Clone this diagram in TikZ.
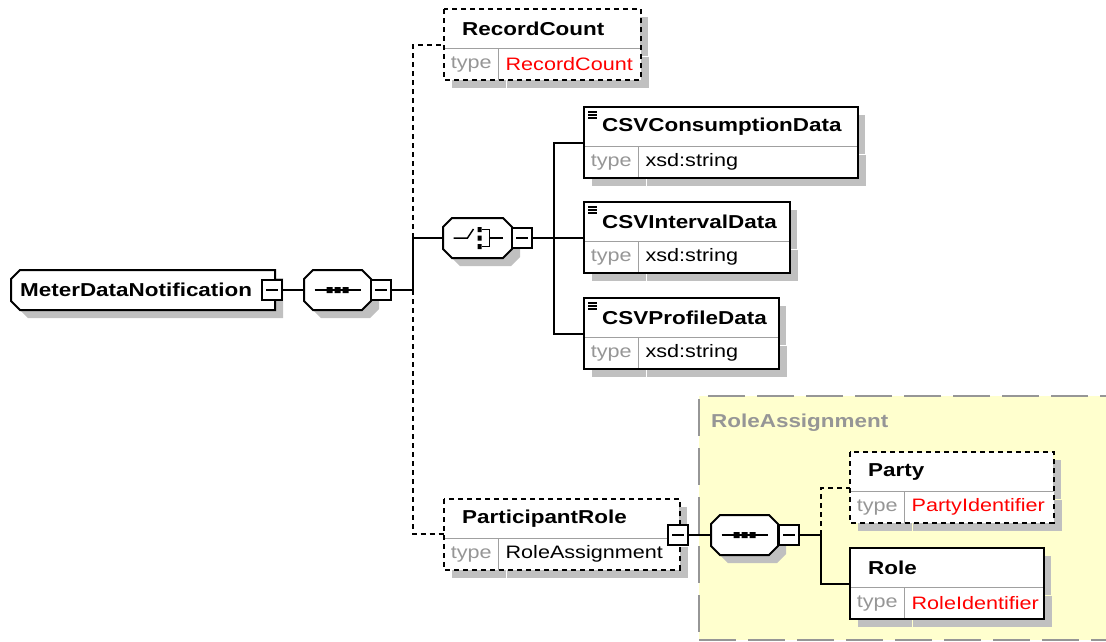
\documentclass[tikz,border=0pt]{standalone}
\usepackage{fontspec}
\setmainfont{Liberation Sans}[FakeStretch=1.2]
\usetikzlibrary{shadows}
\definecolor{shadowgray}{RGB}{192,192,192}
\definecolor{typegray}{RGB}{150,150,150}
\definecolor{dividergray}{RGB}{160,160,160}
\definecolor{groupyellow}{RGB}{255,255,206}
\definecolor{groupline}{RGB}{150,150,150}
\tikzset{
  shade/.style={drop shadow={shadow xshift=8pt,shadow yshift=-8pt,fill=shadowgray,opacity=1}},
  optional/.style={dash pattern=on 5pt off 4pt},
  link/.style={line width=2pt},
  icon/.style={line width=1.5pt},
  frame/.style={line width=2pt},
  divider/.style={draw=dividergray, line width=1.5pt},
  namefont/.style={font=\fontsize{18.7}{21}\selectfont\bfseries},
  elemname/.style={fill=white, shade, anchor=north west, namefont,
    minimum height=39pt, inner xsep=18pt, inner ysep=0pt, align=left},
  typecell/.style={fill=white, shade, anchor=north west,
    minimum width=54pt, minimum height=31pt, inner sep=0pt, text=typegray},
  valcell/.style={fill=white, shade, anchor=north west,
    minimum height=31pt, inner xsep=7pt, inner ysep=0pt, align=left},
  minusbox/.style={draw, fill=white, line width=1.5pt, minimum size=20pt, inner sep=0pt,
    path picture={\draw[icon] ([xshift=4pt]path picture bounding box.west)
      -- ([xshift=-4pt]path picture bounding box.east);}},
  compositor/.style={minimum width=67pt, minimum height=40pt, inner sep=0pt},
  octagon/.style={insert path={(-#1,-11) -- (-#1+9,-20) -- (#1-9,-20) -- (#1,-11)
    -- (#1,11) -- (#1-9,20) -- (-#1+9,20) -- (-#1,11) -- cycle}},
  group/.style={draw=groupline, fill=groupyellow, line width=2pt,
    dash pattern=on 37pt off 12pt, anchor=north west},
}
\begin{document}
\begin{tikzpicture}[x=1pt,y=-1pt,font=\fontsize{18}{21}\selectfont]
  \useasboundingbox (0,0) rectangle (1106,641);

  % RoleAssignment group
  \node[group, minimum width=440pt, minimum height=244pt] (ragroup) at (698,395) {};
  \node[anchor=west, inner sep=0pt, text=typegray, namefont]
    (ralabel) at (711,423) {RoleAssignment};

  % root element
  \node[compositor, minimum width=264pt] (mdn) at (143,290) {};
  \begin{scope}[shift={(mdn.center)}]
    \fill[shadowgray, shift={(8,8)}] (-132,-11) -- (-123,-20) -- (132,-20) -- (132,20)
      -- (-123,20) -- (-132,11) -- cycle;
    \draw[frame, fill=white] (-132,-11) -- (-123,-20) -- (132,-20) -- (132,20)
      -- (-123,20) -- (-132,11) -- cycle;
  \end{scope}
  \node[anchor=west, inner sep=0pt, namefont] (mdntext) at (20,290) {MeterDataNotification};
  \node[minusbox] (mdnminus) at (272,290) {};

  % compositors
  \node[compositor] (seq) at (337.5,290) {};
  \begin{scope}[shift={(seq.center)}]
    \fill[shadowgray, shift={(8,8)}] [octagon=33.5];
    \draw[frame, fill=white] [octagon=33.5];
    \draw[icon] (-23,0) -- (23,0);
    \fill (-11,-3) rectangle (-5,3) (-3,-3) rectangle (3,3) (5,-3) rectangle (11,3);
  \end{scope}
  \node[minusbox] (seqminus) at (381,290) {};

  \node[compositor, minimum width=69pt] (choice) at (477.5,238) {};
  \begin{scope}[shift={(choice.center)}]
    \fill[shadowgray, shift={(8,8)}] [octagon=34.5];
    \draw[frame, fill=white] [octagon=34.5];
    \draw[icon] (-24,0) -- (-10,0) -- (-4,-9);
    \fill (0,-11) rectangle (4,-6) (0,-2.5) rectangle (4,2.5) (0,6) rectangle (4,11);
    \draw[icon] (4,-8.5) -- (12,-8.5) -- (12,8.5) -- (4,8.5) (12,0) -- (25,0);
  \end{scope}
  \node[minusbox] (choiceminus) at (522,238) {};

  \node[compositor] (raseq) at (744.5,535) {};
  \begin{scope}[shift={(raseq.center)}]
    \fill[shadowgray, shift={(8,8)}] [octagon=33.5];
    \draw[frame, fill=white] [octagon=33.5];
    \draw[icon] (-23,0) -- (23,0);
    \fill (-11,-3) rectangle (-5,3) (-3,-3) rectangle (3,3) (5,-3) rectangle (11,3);
  \end{scope}
  \node[minusbox] (raseqminus) at (789,535) {};

  % elements
  \node[elemname, text width=160pt] (rc) at (444,9) {RecordCount};
  \node[typecell] (rctype) at (rc.south west) {type};
  \node[valcell, text width=128pt, text=red] (rcval) at (rctype.north east) {RecordCount};
  \draw[divider] (rc.south west) -- (rc.south east) (rctype.north east) -- (rctype.south east);
  \draw[frame, optional] (rc.north west) rectangle (rcval.south east);

  \node[elemname, text width=237pt] (csvc) at (584,107) {CSVConsumptionData};
  \node[typecell] (csvctype) at (csvc.south west) {type};
  \node[valcell, text width=205pt] (csvcval) at (csvctype.north east) {xsd:string};
  \draw[divider] (csvc.south west) -- (csvc.south east) (csvctype.north east) -- (csvctype.south east);
  \draw[frame] (csvc.north west) rectangle (csvcval.south east);

  \node[elemname, text width=169pt] (csvi) at (584,202) {CSVIntervalData};
  \node[typecell] (csvitype) at (csvi.south west) {type};
  \node[valcell, text width=137pt] (csvival) at (csvitype.north east) {xsd:string};
  \draw[divider] (csvi.south west) -- (csvi.south east) (csvitype.north east) -- (csvitype.south east);
  \draw[frame] (csvi.north west) rectangle (csvival.south east);

  \node[elemname, text width=158pt] (csvp) at (584,298) {CSVProfileData};
  \node[typecell] (csvptype) at (csvp.south west) {type};
  \node[valcell, text width=126pt] (csvpval) at (csvptype.north east) {xsd:string};
  \draw[divider] (csvp.south west) -- (csvp.south east) (csvptype.north east) -- (csvptype.south east);
  \draw[frame] (csvp.north west) rectangle (csvpval.south east);

  \node[elemname, text width=199pt] (pr) at (444,499) {ParticipantRole};
  \node[typecell] (prtype) at (pr.south west) {type};
  \node[valcell, text width=167pt] (prval) at (prtype.north east) {RoleAssignment};
  \draw[divider] (pr.south west) -- (pr.south east) (prtype.north east) -- (prtype.south east);
  \draw[frame, optional] (pr.north west) rectangle (prval.south east);
  \node[minusbox] (prminus) at (678,535) {};

  \node[elemname, text width=167pt] (party) at (850,452) {Party};
  \node[typecell] (partytype) at (party.south west) {type};
  \node[valcell, text width=135pt, text=red] (partyval) at (partytype.north east) {PartyIdentifier};
  \draw[divider] (party.south west) -- (party.south east) (partytype.north east) -- (partytype.south east);
  \draw[frame, optional] (party.north west) rectangle (partyval.south east);

  \node[elemname, text width=157pt] (role) at (850,548) {Role};
  \node[typecell] (roletype) at (role.south west) {type};
  \node[valcell, text width=125pt, text=red] (roleval) at (roletype.north east) {RoleIdentifier};
  \draw[divider] (role.south west) -- (role.south east) (roletype.north east) -- (roletype.south east);
  \draw[frame] (role.north west) rectangle (roleval.south east);

  % simple content marks
  \draw[line width=1.2pt] ([shift={(4,5)}]csvc.north west) -- +(9,0) +(0,3) -- +(9,3) +(0,6) -- +(9,6);
  \draw[line width=1.2pt] ([shift={(4,5)}]csvi.north west) -- +(9,0) +(0,3) -- +(9,3) +(0,6) -- +(9,6);
  \draw[line width=1.2pt] ([shift={(4,5)}]csvp.north west) -- +(9,0) +(0,3) -- +(9,3) +(0,6) -- +(9,6);

  % connectors
  \coordinate (j1) at (413,290);
  \coordinate (j2) at (554,238);
  \coordinate (j3) at (821,535);
  \draw[link] (mdnminus) -- (seq.west);
  \draw[link] (seqminus) -- (j1) |- (choice.west);
  \draw[link, optional] (j1 |- choice.west) |- ([yshift=3pt]rc.south west);
  \draw[link, optional] (j1) |- ([yshift=4pt]pr.south west);
  \draw[link] (choiceminus) -- (j2);
  \draw[link] (j2) |- ([yshift=3pt]csvc.south west);
  \draw[link] (j2) |- ([yshift=3pt]csvi.south west);
  \draw[link] (j2) |- ([yshift=3pt]csvp.south west);
  \draw[link] (prminus) -- (raseq.west);
  \draw[link] (raseqminus) -- (j3);
  \draw[link, optional] (j3) |- ([yshift=3pt]party.south west);
  \draw[link] (j3) |- ([yshift=3pt]role.south west);
\end{tikzpicture}
\end{document}
